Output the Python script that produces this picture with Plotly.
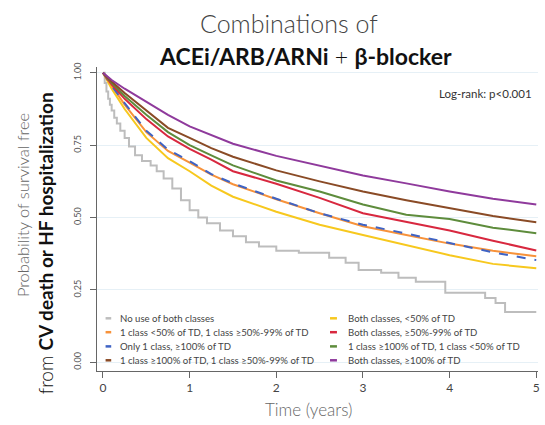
import plotly.graph_objects as go

# ---------------- data ----------------
t_common = [0, 0.1, 0.25, 0.5, 0.75, 1.0, 1.25, 1.5, 2.0, 2.5, 3.0, 3.5, 4.0, 4.5, 5.0]

purple_both_ge100 = [1.0, 0.975, 0.945, 0.90, 0.855, 0.815, 0.785, 0.755, 0.713, 0.678, 0.645, 0.618, 0.59, 0.565, 0.545]
brown_1ge100_1_50_99 = [1.0, 0.97, 0.93, 0.87, 0.81, 0.775, 0.74, 0.71, 0.663, 0.625, 0.59, 0.56, 0.533, 0.505, 0.484]
green_1ge100_1lt50 = [1.0, 0.965, 0.92, 0.855, 0.795, 0.75, 0.715, 0.68, 0.628, 0.59, 0.545, 0.51, 0.495, 0.465, 0.446]
red_both_50_99 = [1.0, 0.96, 0.91, 0.84, 0.78, 0.737, 0.70, 0.66, 0.617, 0.568, 0.515, 0.485, 0.455, 0.42, 0.386]
blue_only1_ge100 = [1.0, 0.955, 0.895, 0.80, 0.735, 0.695, 0.65, 0.618, 0.565, 0.515, 0.475, 0.445, 0.412, 0.38, 0.353]
orange_1lt50_1_50_99 = [1.0, 0.955, 0.89, 0.795, 0.73, 0.69, 0.648, 0.615, 0.563, 0.515, 0.47, 0.44, 0.41, 0.385, 0.366]
yellow_both_lt50 = [1.0, 0.945, 0.875, 0.775, 0.705, 0.66, 0.61, 0.572, 0.52, 0.475, 0.44, 0.405, 0.37, 0.34, 0.325]

t_gray = [0, 0.02, 0.04, 0.06, 0.08, 0.1, 0.13, 0.16, 0.2, 0.25, 0.3, 0.37, 0.45, 0.55, 0.62, 0.7, 0.8, 0.9, 1.0,
          1.1, 1.2, 1.35, 1.5, 1.65, 1.8, 2.0, 2.26, 2.61, 2.80, 2.95, 3.21, 3.41, 3.61, 3.95,
          4.41, 4.53, 4.64, 5.0]
gray_no_use = [1.0, 0.965, 0.935, 0.91, 0.89, 0.87, 0.845, 0.825, 0.80, 0.775, 0.745, 0.715, 0.695, 0.68, 0.66, 0.635,
               0.6, 0.56, 0.525, 0.5, 0.48, 0.455, 0.435, 0.415, 0.4, 0.385, 0.378, 0.361, 0.344, 0.319, 0.309,
               0.292, 0.278, 0.24, 0.222, 0.205, 0.174, 0.174]

legend_labels = [
    "No use of both classes",
    "1 class <50% of TD, 1 class ≥50%-99% of TD",
    "Only 1 class, ≥100% of TD",
    "1 class ≥100% of TD, 1 class ≥50%-99% of TD",
    "Both classes, <50% of TD",
    "Both classes, ≥50%-99% of TD",
    "1 class ≥100% of TD, 1 class <50% of TD",
    "Both classes, ≥100% of TD",
]
colors = ["#bdbdbd", "#f7923a", "#3f63c4", "#8a4b26", "#f7c81e", "#d8283f", "#5e8c3c", "#8f3a9c"]

y_ticks = [0, 0.25, 0.5, 0.75, 1.0]
x_ticks = [0, 1, 2, 3, 4, 5]

FONT = "Lato"
GRAY = "#555555"

fig = go.Figure()

series = [
    (t_gray, gray_no_use, 0, "hv", "solid"),
    (t_common, yellow_both_lt50, 4, "linear", "solid"),
    (t_common, orange_1lt50_1_50_99, 1, "linear", "solid"),
    (t_common, blue_only1_ge100, 2, "linear", "dash"),
    (t_common, red_both_50_99, 5, "linear", "solid"),
    (t_common, green_1ge100_1lt50, 6, "linear", "solid"),
    (t_common, brown_1ge100_1_50_99, 3, "linear", "solid"),
    (t_common, purple_both_ge100, 7, "linear", "solid"),
]
for tx, vals, ci, shape, dash in series:
    fig.add_trace(go.Scatter(
        x=tx, y=vals, mode="lines", name=legend_labels[ci], showlegend=False,
        line=dict(color=colors[ci], width=2, shape=shape, dash=dash),
    ))

# manual legend (two columns, inside plot) in data coordinates
row_y = [0.152, 0.104, 0.055, 0.007]
col_sym_x = [(0.03, 0.095), (2.62, 2.70)]
col_txt_x = [0.17, 2.80]
for i, lab in enumerate(legend_labels):
    col = i // 4
    row = i % 4
    x0, x1 = col_sym_x[col]
    fig.add_shape(type="line", xref="x", yref="y", x0=x0, x1=x1, y0=row_y[row], y1=row_y[row],
                  line=dict(color=colors[i], width=2.5))
    fig.add_annotation(x=col_txt_x[col], y=row_y[row], xref="x", yref="y", text=lab,
                       showarrow=False, xanchor="left", yanchor="middle",
                       font=dict(family=FONT, size=9.6, color="#444444"))

# log-rank
fig.add_annotation(x=4.97, y=0.93, xref="x", yref="y", text="Log-rank: p<0.001", showarrow=False,
                   xanchor="right", yanchor="middle", font=dict(family=FONT, size=11.5, color="#333333"))

# title
fig.add_annotation(x=0.436, y=1.145, xref="paper", yref="paper", text="Combinations of", showarrow=False,
                   xanchor="center", yanchor="middle",
                   font=dict(family=FONT, size=25, color="#444444", weight=300))
fig.add_annotation(x=0.472, y=1.036, xref="paper", yref="paper",
                   text="<b>ACEi/ARB/ARNi</b> + <b>β-blocker</b>", showarrow=False,
                   xanchor="center", yanchor="middle",
                   font=dict(family=FONT, size=23, color="#111111", weight=300))

# y axis title (two lines)
fig.add_annotation(x=-0.166, y=0.545, xref="paper", yref="paper", text="Probability of survival free",
                   showarrow=False, textangle=-90, xanchor="center", yanchor="middle",
                   font=dict(family=FONT, size=16.5, color="#666666", weight=300))
fig.add_annotation(x=-0.118, y=0.42, xref="paper", yref="paper",
                   text="from <b>CV death or HF hospitalization</b>",
                   showarrow=False, textangle=-90, xanchor="center", yanchor="middle",
                   font=dict(family=FONT, size=19, color="#111111", weight=300))

# x axis title
fig.add_annotation(x=0.48, y=-0.128, xref="paper", yref="paper", text="Time (years)", showarrow=False,
                   xanchor="center", yanchor="middle",
                   font=dict(family=FONT, size=17, color="#666666", weight=300))

fig.update_layout(
    width=545, height=425,
    margin=dict(l=97, r=5, t=67, b=54),
    paper_bgcolor="white", plot_bgcolor="white",
    font=dict(family=FONT, color=GRAY),
    xaxis=dict(range=[-0.069, 5.02], tickvals=x_ticks, ticktext=[str(v) for v in x_ticks],
               showgrid=False, zeroline=False, showline=True, linecolor="#666666", linewidth=1,
               ticks="outside", ticklen=6, tickcolor="#666666",
               tickfont=dict(family=FONT, size=12, color="#444444")),
    yaxis=dict(range=[-0.03, 1.02], tickvals=y_ticks, ticktext=[f"{v:.2f}" for v in y_ticks],
               showgrid=True, gridcolor="#e6f0f6", gridwidth=1, zeroline=False,
               showline=True, linecolor="#666666", linewidth=1,
               ticks="outside", ticklen=6, tickcolor="#666666", tickangle=-90,
               ticklabelstandoff=5,
               tickfont=dict(family=FONT, size=9, color="#555555")),
)

fig.write_html("out.html")
